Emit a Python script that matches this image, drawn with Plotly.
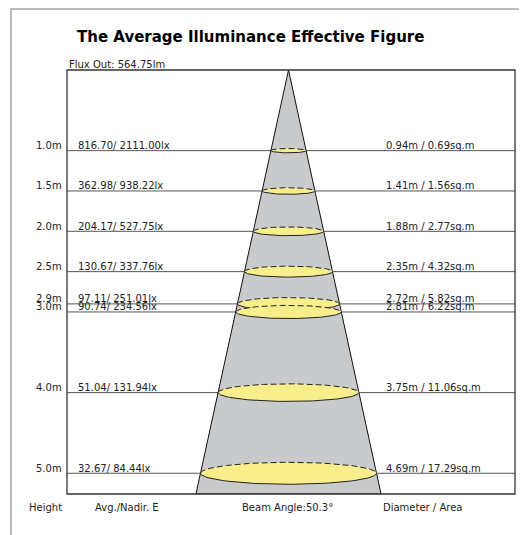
import numpy as np
import plotly.graph_objects as go

heights = [1.0, 1.5, 2.0, 2.5, 2.9, 3.0, 4.0, 5.0]
avg_lx = [816.70, 362.98, 204.17, 130.67, 97.11, 90.74, 51.04, 32.67]
nadir_lx = [2111.00, 938.22, 527.75, 337.76, 251.01, 234.56, 131.94, 84.44]
diameters = [0.94, 1.41, 1.88, 2.35, 2.72, 2.81, 3.75, 4.69]
areas = [0.69, 1.56, 2.77, 4.32, 5.82, 6.22, 11.06, 17.29]
beam_angle = 50.3
flux_out = 564.75
title = "The Average Illuminance Effective Figure"
footer_labels = ["Height", "Avg./Nadir. E", "Beam Angle:50.3°", "Diameter / Area"]

OFF = 8  # page body margin
W, H = 527 - OFF, 535 - OFF
ML, MT = 67 - OFF, 70 - OFF
PW, PH = 448, 424
MR, MB = W - ML - PW, H - MT - PH
CX = 288.5 - OFF    # pixel x of beam axis
PX_M_X = 37.5       # px per metre horizontally
Y_MAX = 5.257
PX_M_Y = PH / Y_MAX
x_range = [(ML - CX) / PX_M_X, (ML + PW - CX) / PX_M_X]


def px(xr):
    return (xr - OFF - ML) / PW


def py(yr):
    return (MT + PH - (yr - OFF)) / PH


FONT = "DejaVu Sans"
TXT = "#222222"

fig = go.Figure()

# cone
half = np.tan(np.radians(beam_angle / 2)) * Y_MAX
fig.add_trace(go.Scatter(x=[0, -half, half, 0], y=[0, Y_MAX, Y_MAX, 0], mode="lines",
                         fill="toself", fillcolor="#c9cacc",
                         line=dict(color="#111111", width=1), hoverinfo="skip"))

# ellipses
ratio = 0.125
for h, d in zip(heights, diameters):
    rx = d / 2
    ry = ratio * rx * PX_M_X / PX_M_Y
    t = np.linspace(0, 2 * np.pi, 121)
    fig.add_trace(go.Scatter(x=rx * np.cos(t), y=h + ry * np.sin(t), mode="lines",
                             fill="toself", fillcolor="#f8ef8c",
                             line=dict(width=0, color="rgba(0,0,0,0)"), hoverinfo="skip"))
    tb = np.linspace(np.pi, 2 * np.pi, 61)
    fig.add_trace(go.Scatter(x=rx * np.cos(tb), y=h + ry * np.sin(tb), mode="lines",
                             line=dict(color="#222222", width=1, dash="6px,3px"), hoverinfo="skip"))
    tf = np.linspace(0, np.pi, 61)
    fig.add_trace(go.Scatter(x=rx * np.cos(tf), y=h + ry * np.sin(tf), mode="lines",
                             line=dict(color="#222222", width=1), hoverinfo="skip"))

shapes = []
for h in heights:
    shapes.append(dict(type="line", xref="paper", yref="y", x0=0, x1=1, y0=h, y1=h,
                       line=dict(color="#555555", width=1), layer="below"))
shapes.append(dict(type="rect", xref="paper", yref="paper", x0=0, x1=1, y0=0, y1=1,
                   line=dict(color="#333333", width=1.3)))
# outer grey frame
fyt = (MT + PH - 1) / PH
fyb = (MT + PH - H) / PH
shapes.append(dict(type="line", xref="paper", yref="paper", x0=px(10), x1=px(527), y0=fyt, y1=fyt,
                   line=dict(color="#bbbbbb", width=2)))
shapes.append(dict(type="line", xref="paper", yref="paper", x0=px(11), x1=px(11), y0=fyt, y1=fyb,
                   line=dict(color="#bbbbbb", width=2)))

ann = []


def A(**kw):
    base = dict(showarrow=False, font=dict(family=FONT, size=10, color=TXT))
    base.update(kw)
    ann.append(base)


for h, a, n, d, ar in zip(heights, avg_lx, nadir_lx, diameters, areas):
    A(text=f"{h:.1f}m", xref="paper", yref="y", x=0, y=h, xanchor="right", yanchor="middle",
      xshift=-3, yshift=5)
    A(text=f"{a:.2f}/ {n:.2f}lx", xref="paper", yref="y", x=0, y=h, xanchor="left",
      yanchor="middle", xshift=9, yshift=5)
    A(text=f"{d:.2f}m / {ar:.2f}sq.m", xref="paper", yref="y", x=px(385), y=h,
      xanchor="left", yanchor="middle", xshift=-1, yshift=5)

A(text=f"Flux Out: {flux_out:.2f}lm", xref="paper", yref="paper", x=0, y=1,
  xanchor="left", yanchor="middle", xshift=0, yshift=6)
A(text=f"<b>{title}</b>", xref="paper", yref="paper", x=px(250), y=py(37),
  xanchor="center", yanchor="middle", font=dict(family=FONT, size=15, color="#000000"))

A(text=footer_labels[0], xref="paper", yref="paper", x=0, y=0, xanchor="right",
  yanchor="middle", xshift=-3, yshift=-13)
A(text=footer_labels[1], xref="paper", yref="paper", x=px(127), y=0, xanchor="center",
  yanchor="middle", yshift=-13)
A(text=footer_labels[2], xref="paper", yref="paper", x=px(287.5), y=0, xanchor="center",
  yanchor="middle", yshift=-13)
A(text=footer_labels[3], xref="paper", yref="paper", x=px(382), y=0, xanchor="left",
  yanchor="middle", xshift=-1, yshift=-13)

fig.update_layout(
    width=W, height=H, margin=dict(l=ML, r=MR, t=MT, b=MB),
    paper_bgcolor="white", plot_bgcolor="white", showlegend=False,
    xaxis=dict(range=x_range, visible=False, fixedrange=True),
    yaxis=dict(range=[Y_MAX, 0], visible=False, fixedrange=True),
    shapes=shapes, annotations=ann,
)

fig.write_html("out.html")
